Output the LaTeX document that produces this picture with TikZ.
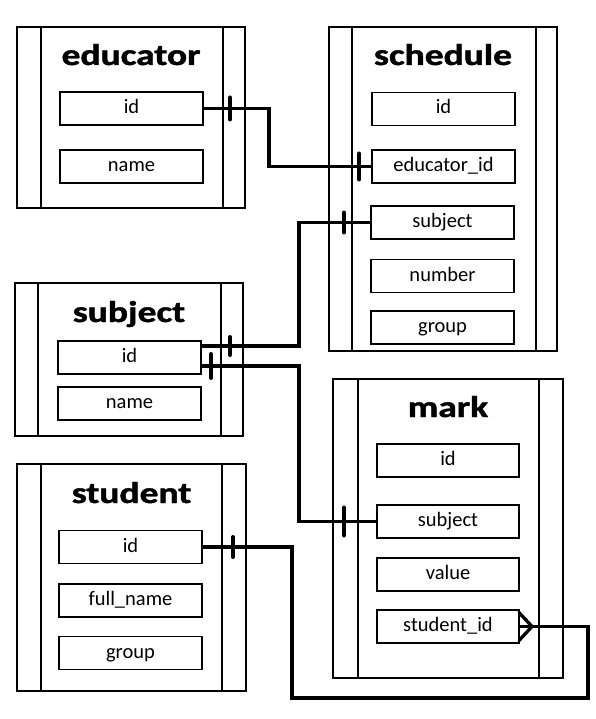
\documentclass[tikz,border=0pt]{standalone}
\usepackage{fontspec}
\usepackage{graphicx}
\setmainfont{Carlito}
\newfontfamily\tfont{Carlito}[BoldFeatures={FakeBold=1.3}]
\newcommand{\ttl}[1]{\scalebox{1.25}[1]{\fontsize{30}{32}\tfont\bfseries #1}}
\begin{document}
\begin{tikzpicture}[x=1pt,y=-1pt,
  tbl/.style={draw, line width=1.6pt, inner sep=0pt, outer sep=0pt},
  fld/.style={draw, line width=1.6pt, inner sep=0pt, outer sep=0pt, minimum width=143pt, minimum height=33pt,
    font=\fontsize{20.5}{22}\selectfont, text height=14pt, text depth=4pt},
  ttlnode/.style={anchor=base, inner sep=0pt},
  inner/.style={line width=1.6pt},
  conn/.style={line width=3.3pt, line join=miter},
  tickmark/.style={line width=4pt, line cap=round},
]
\useasboundingbox (0,0) rectangle (596,719);

% ---------- tables ----------
\node[tbl, minimum width=228pt, minimum height=181pt] (T-edu) at (131,117.5) {};
\node[tbl, minimum width=228pt, minimum height=324pt] (T-sch) at (443,189) {};
\node[tbl, minimum width=228pt, minimum height=153pt] (T-sub) at (129,359.5) {};
\node[tbl, minimum width=229pt, minimum height=227pt] (T-stu) at (131.5,577.5) {};
\node[tbl, minimum width=230pt, minimum height=299pt] (T-mrk) at (448,528.5) {};

\foreach \t/\l/\r in {T-edu/24/22, T-sch/23/21, T-sub/23/22, T-stu/24/24, T-mrk/25/24}{
  \draw[inner] ([xshift=\l pt]\t.north west) -- ([xshift=\l pt]\t.south west);
  \draw[inner] ([xshift=-\r pt]\t.north east) -- ([xshift=-\r pt]\t.south east);
}

% ---------- titles ----------
\node[ttlnode] (t-edu) at (131,65) {\ttl{educator}};
\node[ttlnode] (t-sch) at (443,65) {\ttl{schedule}};
\node[ttlnode] (t-sub) at (129,322) {\ttl{subject}};
\node[ttlnode] (t-stu) at (131.5,503) {\ttl{student}};
\node[ttlnode] (t-mrk) at (448,417) {\ttl{mark}};

% ---------- fields ----------
\node[fld] (e-id)   at (131.5,108.5) {id};
\node[fld] (e-name) at (131.5,166.5) {name};

\node[fld] (s-id)   at (443.5,109)   {id};
\node[fld] (s-eid)  at (443.5,166.5) {educator\_id};
\node[fld] (s-sub)  at (442.5,222.5) {subject};
\node[fld] (s-num)  at (442.5,276)   {number};
\node[fld] (s-grp)  at (442.5,327.5) {group};

\node[fld] (b-id)   at (129.5,357.5) {id};
\node[fld] (b-name) at (129.5,403.5) {name};

\node[fld] (u-id)   at (130.5,547)   {id};
\node[fld] (u-fn)   at (130.5,600.5) {full\_name};
\node[fld] (u-grp)  at (130.5,653)   {group};

\node[fld, minimum width=142pt] (m-id)   at (448,460.5) {id};
\node[fld, minimum width=142pt] (m-sub)  at (448,521.5) {subject};
\node[fld, minimum width=142pt] (m-val)  at (448,574.5) {value};
\node[fld, minimum width=142pt] (m-sid)  at (448,626.5) {student\_id};

% ---------- connectors ----------
% educator.id -> schedule.educator_id
\draw[conn] (e-id.east) -- ++(66,0) |- (s-eid.west);
\draw[tickmark] ([xshift=27pt]e-id.east) ++(0,-11) -- ++(0,22);
\draw[tickmark] ([xshift=-13pt]s-eid.west) ++(0,-13) -- ++(0,26);

% subject.id -> schedule.subject
\coordinate (b-up) at ([yshift=11.5pt]b-id.east);
\draw[conn] (b-up) -- ++(98,0) |- (s-sub.west);
\draw[tickmark] ([xshift=29pt]b-up) ++(0,-9) -- ++(0,18);
\draw[tickmark] ([xshift=-27pt]s-sub.west) ++(0,-10) -- ++(0,20);

% subject.id -> mark.subject
\coordinate (b-dn) at ([yshift=-8.5pt]b-id.east);
\draw[conn] (b-dn) -- ++(98,0) |- (m-sub.west);
\draw[tickmark] ([xshift=10pt]b-dn) ++(0,-12) -- ++(0,24);
\draw[tickmark] ([xshift=-33pt]m-sub.west) ++(0,-14) -- ++(0,28);

% student.id -> mark.student_id (one to many)
\coordinate (apex) at ([xshift=13pt]m-sid.east);
\coordinate (low) at (588,698);
\draw[conn] (u-id.east) -- ++(90,0) |- (low) |- (apex) -- (m-sid.east);
\draw[tickmark] ([xshift=31pt]u-id.east) ++(0,-10) -- ++(0,20);
\draw[conn, line cap=round] ([yshift=14pt]m-sid.east) -- (apex) -- ([yshift=-14pt]m-sid.east);
\end{tikzpicture}
\end{document}
